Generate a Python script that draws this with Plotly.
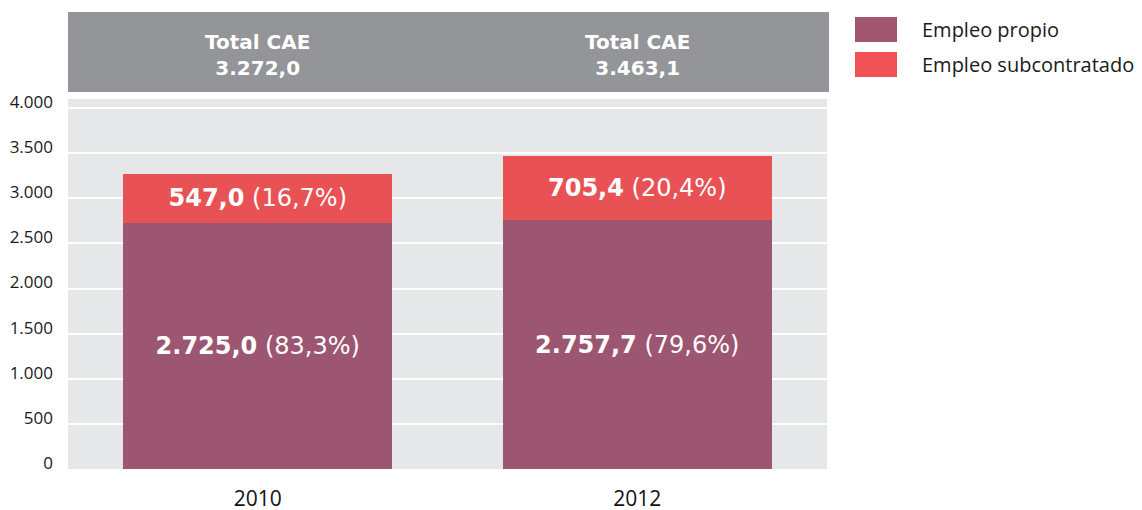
import plotly.graph_objects as go

# ---- data ----
years = ["2010", "2012"]
empleo_propio = [2725.0, 2757.7]
empleo_subcontratado = [547.0, 705.4]
series_names = ["Empleo propio", "Empleo subcontratado"]
header_label = "Total CAE"
y_tickvals = [0, 500, 1000, 1500, 2000, 2500, 3000, 3500, 4000]
y_ticktext = ["0", "500", "1.000", "1.500", "2.000", "2.500", "3.000", "3.500", "4.000"]

# ---- style ----
C_PROPIO = "#9A516C"
C_SUB = "#E84C4F"
C_PROPIO_LEG = "#A0566E"
C_SUB_LEG = "#EF5156"
C_HEADER = "#939598"
C_PLOTBG = "#E6E7E9"


def fmt(v, dec=1):
    s = f"{v:,.{dec}f}"
    return s.replace(",", "X").replace(".", ",").replace("X", ".")


x_pos = list(range(len(years)))
totals = [a + b for a, b in zip(empleo_propio, empleo_subcontratado)]
text_propio = [f"<b>{fmt(v)}</b> ({fmt(100 * v / t)}%)" for v, t in zip(empleo_propio, totals)]
text_sub = [f"<b>{fmt(v)}</b> ({fmt(100 * v / t)}%)" for v, t in zip(empleo_subcontratado, totals)]

fig = go.Figure()
common = dict(
    width=0.71,
    textposition="inside",
    insidetextanchor="middle",
    textangle=0,
    constraintext="none",
    textfont=dict(family="DejaVu Sans", size=24, color="white"),
    hoverinfo="skip",
    showlegend=False,
)
fig.add_trace(go.Bar(x=x_pos, y=empleo_propio, name=series_names[0], text=text_propio,
                     marker=dict(color=C_PROPIO, line=dict(width=0), opacity=0.97), **common))
fig.add_trace(go.Bar(x=x_pos, y=empleo_subcontratado, name=series_names[1], text=text_sub,
                     marker=dict(color=C_SUB, line=dict(width=0), opacity=0.97), **common))

# page body has an 8px margin; figure is shrunk and positions are in reference pixels
H_PLOT = 370.0
def py(px):
    return (469 - px) / H_PLOT

W_PLOT = 759.0
def pxr(px):
    return (px - 68) / W_PLOT

shapes = [
    dict(type="rect", xref="paper", yref="paper", x0=0, x1=pxr(829), y0=py(92), y1=py(12),
         fillcolor=C_HEADER, line=dict(width=0), layer="above"),
    dict(type="rect", xref="paper", yref="paper", x0=pxr(855), x1=pxr(897), y0=py(42), y1=py(17),
         fillcolor=C_PROPIO_LEG, line=dict(width=0)),
    dict(type="rect", xref="paper", yref="paper", x0=pxr(855), x1=pxr(897), y0=py(77), y1=py(52),
         fillcolor=C_SUB_LEG, line=dict(width=0)),
]

annotations = []
for xp, t in zip(x_pos, totals):
    annotations.append(dict(
        x=xp, xref="x", y=py(54.5), yref="paper", showarrow=False,
        text=f"<b>{header_label}<br>{fmt(t)}</b>",
        font=dict(family="DejaVu Sans", size=20, color="white"),
        xanchor="center", yanchor="middle", align="center",
    ))
for name, yc in zip(series_names, [29.5, 64.5]):
    annotations.append(dict(
        x=pxr(920), xref="paper", y=py(yc), yref="paper", showarrow=False,
        text=name, font=dict(family="Open Sans", size=20, color="#1a1a1a"),
        xanchor="left", yanchor="middle",
    ))

fig.update_layout(
    barmode="stack",
    width=1134, height=502,
    margin=dict(l=60, r=315, t=91, b=41, autoexpand=False),
    paper_bgcolor="white",
    plot_bgcolor=C_PLOTBG,
    shapes=shapes,
    annotations=annotations,
    showlegend=False,
)
fig.update_yaxes(
    range=[0, 4100], tickvals=y_tickvals, ticktext=y_ticktext,
    showgrid=True, gridcolor="white", gridwidth=1.5, zeroline=False,
    ticks="", ticklabelstandoff=14, ticklabelshift=-6, automargin=False,
    tickfont=dict(family="Open Sans", size=17, color="#1a1a1a"),
    showline=False,
)
fig.update_xaxes(
    range=[-0.5, len(years) - 0.5], tickvals=x_pos, ticktext=years,
    showgrid=False, ticks="", ticklabelstandoff=15, showline=False, automargin=False,
    zeroline=False,
    tickfont=dict(family="Open Sans", size=21, color="#111111"),
)

fig.write_html("out.html")
